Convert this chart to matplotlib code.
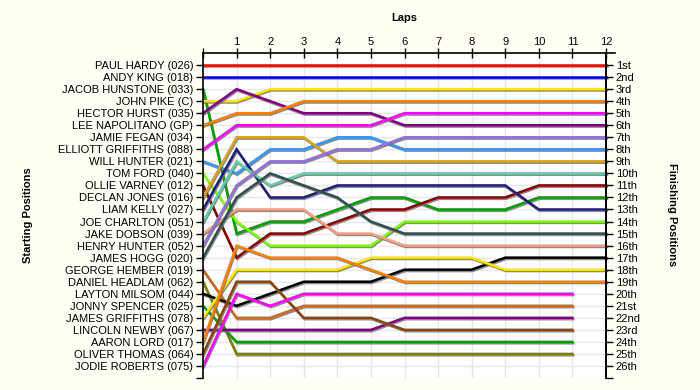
import matplotlib
matplotlib.use("Agg")
import matplotlib.pyplot as plt
import matplotlib.patheffects as pe
from matplotlib.lines import Line2D

plt.rcParams['font.family'] = ['Liberation Sans', 'DejaVu Sans']

laps = list(range(0, 13))
lap_labels = [''] + [str(i) for i in range(1, 13)]

drivers = ["PAUL HARDY (026)", "ANDY KING (018)", "JACOB HUNSTONE (033)", "JOHN PIKE (C)",
           "HECTOR HURST (035)", "LEE NAPOLITANO (GP)", "JAMIE FEGAN (034)",
           "ELLIOTT GRIFFITHS (088)", "WILL HUNTER (021)", "TOM FORD (040)",
           "OLLIE VARNEY (012)", "DECLAN JONES (016)", "LIAM KELLY (027)",
           "JOE CHARLTON (051)", "JAKE DOBSON (039)", "HENRY HUNTER (052)",
           "JAMES HOGG (020)", "GEORGE HEMBER (019)", "DANIEL HEADLAM (062)",
           "LAYTON MILSOM (044)", "JONNY SPENCER (025)", "JAMES GRIFFITHS (078)",
           "LINCOLN NEWBY (067)", "AARON LORD (017)", "OLIVER THOMAS (064)",
           "JODIE ROBERTS (075)"]

finish_labels = ["1st", "2nd", "3rd", "4th", "5th", "6th", "7th", "8th", "9th", "10th",
                 "11th", "12th", "13th", "14th", "15th", "16th", "17th", "18th", "19th",
                 "20th", "21st", "22nd", "23rd", "24th", "25th", "26th"]

# positions per lap (lap 0 = start), None = no data
positions = {
    "PAUL HARDY (026)":        [1] * 13,
    "ANDY KING (018)":         [2] * 13,
    "JACOB HUNSTONE (033)":    [3, 15, 14, 14, 13, 12, 12, 13, 13, 13, 12, 12, 12],
    "JOHN PIKE (C)":           [4, 4, 3, 3, 3, 3, 3, 3, 3, 3, 3, 3, 3],
    "HECTOR HURST (035)":      [5, 3, 4, 5, 5, 5, 6, 6, 6, 6, 6, 6, 6],
    "LEE NAPOLITANO (GP)":     [6, 5, 5, 4, 4, 4, 4, 4, 4, 4, 4, 4, 4],
    "ELLIOTT GRIFFITHS (088)": [8, 6, 6, 6, 6, 6, 5, 5, 5, 5, 5, 5, 5],
    "WILL HUNTER (021)":       [9, 10, 8, 8, 7, 7, 8, 8, 8, 8, 8, 8, 8],
    "TOM FORD (040)":          [10, 14, 16, 16, 16, 16, 14, 14, 14, 14, 14, 14, 14],
    "OLLIE VARNEY (012)":      [11, 17, 15, 15, 14, 13, 13, 12, 12, 12, 11, 11, 11],
    "DECLAN JONES (016)":      [12, 7, 7, 7, 9, 9, 9, 9, 9, 9, 9, 9, 9],
    "LIAM KELLY (027)":        [13, 8, 12, 12, 11, 11, 11, 11, 11, 11, 13, 13, 13],
    "JOE CHARLTON (051)":      [14, 9, 11, 10, 10, 10, 10, 10, 10, 10, 10, 10, 10],
    "JAKE DOBSON (039)":       [15, 13, 13, 13, 15, 15, 16, 16, 16, 16, 16, 16, 16],
    "HENRY HUNTER (052)":      [16, 11, 9, 9, 8, 8, 7, 7, 7, 7, 7, 7, 7],
    "JAMES HOGG (020)":        [17, 12, 10, 11, 12, 14, 15, 15, 15, 15, 15, 15, 15],
    "GEORGE HEMBER (019)":     [18, 22, 22, 21, 21, 21, 21, 21, 21, 21, 21, 21, None],
    "DANIEL HEADLAM (062)":    [19, 25, 25, 25, 25, 25, 25, 25, 25, 25, 25, 25, None],
    "LAYTON MILSOM (044)":     [20, 21, 20, 19, 19, 19, 18, 18, 18, 17, 17, 17, 17],
    "JONNY SPENCER (025)":     [21, 24, 24, 24, 24, 24, 24, 24, 24, 24, 24, 24, None],
    "JAMES GRIFFITHS (078)":   [22, 18, 18, 18, 18, 17, 17, 17, 17, 18, 18, 18, 18],
    "LINCOLN NEWBY (067)":     [23, 23, 23, 23, 23, 23, 22, 22, 22, 22, 22, 22, None],
    "AARON LORD (017)":        [24, 16, 17, 17, 17, 18, 19, 19, 19, 19, 19, 19, 19],
    "OLIVER THOMAS (064)":     [25, 19, 19, 22, 22, 22, 23, 23, 23, 23, 23, 23, None],
    "JODIE ROBERTS (075)":     [26, 20, 21, 20, 20, 20, 20, 20, 20, 20, 20, 20, None],
}

colors = {
    "PAUL HARDY (026)": "#EE0000",
    "ANDY KING (018)": "#0000DD",
    "JACOB HUNSTONE (033)": "#00A000",
    "JOHN PIKE (C)": "#FFE600",
    "HECTOR HURST (035)": "#800080",
    "LEE NAPOLITANO (GP)": "#FF8000",
    "ELLIOTT GRIFFITHS (088)": "#FF00FF",
    "WILL HUNTER (021)": "#3399FF",
    "TOM FORD (040)": "#80FF00",
    "OLLIE VARNEY (012)": "#8B0000",
    "DECLAN JONES (016)": "#DAA520",
    "LIAM KELLY (027)": "#1F1F7A",
    "JOE CHARLTON (051)": "#66CDAA",
    "JAKE DOBSON (039)": "#F4A080",
    "HENRY HUNTER (052)": "#9370DB",
    "JAMES HOGG (020)": "#2F4F4F",
    "GEORGE HEMBER (019)": "#D2691E",
    "DANIEL HEADLAM (062)": "#808000",
    "LAYTON MILSOM (044)": "#000000",
    "JONNY SPENCER (025)": "#00A000",
    "JAMES GRIFFITHS (078)": "#FFE600",
    "LINCOLN NEWBY (067)": "#800080",
    "AARON LORD (017)": "#FF8000",
    "OLIVER THOMAS (064)": "#8B4513",
    "JODIE ROBERTS (075)": "#FF00FF",
}

bg = "#FFFFF4"
fig = plt.figure(figsize=(7, 3.9), dpi=100, facecolor=bg)
ax = fig.add_axes([203 / 700, 1 - 378 / 390, (606 - 203) / 700, (378 - 53) / 390])
ax.set_facecolor("white")

n = len(drivers)
ax.set_xlim(0, 12)
ax.set_ylim(n + 1, 0)

# grid
for x in laps[1:]:
    ax.axvline(x, color="#E6E6E6", lw=1.0, zorder=0)
for y in range(1, n + 1):
    ax.axhline(y, color="#E6E6E6", lw=1.0, zorder=0)

shadow = [pe.SimpleLineShadow(offset=(0.6, -1.0), shadow_color="#707070", alpha=0.8),
          pe.Normal()]
for d in drivers:
    if d not in positions:
        continue
    p = positions[d]
    xs = [laps[i] for i in range(len(p)) if p[i] is not None]
    ys = [p[i] for i in range(len(p)) if p[i] is not None]
    ax.plot(xs, ys, color=colors[d], lw=1.8, solid_joinstyle="miter",
            path_effects=shadow, zorder=2, clip_on=False)

# axes / ticks
ax.xaxis.tick_top()
ax.set_xticks(laps)
ax.set_xticklabels(lap_labels, fontsize=8)
ax.tick_params(axis="x", direction="inout", length=7, width=1, pad=1, top=True, bottom=False)

ax.set_yticks(list(range(1, n + 2)))
ax.set_yticklabels(drivers + [""], fontsize=8)
ax.tick_params(axis="y", direction="out", length=5, width=1, pad=2, left=True)

ax2 = ax.twinx()
ax2.set_ylim(n + 1, 0)
ax2.set_yticks(list(range(1, n + 2)))
ax2.set_yticklabels(finish_labels + [""], fontsize=8)
ax2.tick_params(axis="y", direction="out", length=5, width=1, pad=2)

for a in (ax, ax2):
    a.spines["bottom"].set_visible(False)
    for s in ("top", "left", "right"):
        a.spines[s].set_linewidth(1.2)
ax2.spines["top"].set_visible(False)
ax2.spines["left"].set_visible(False)

# top spine extension beyond right axis
ax.add_line(Line2D([1.0, 1.022], [1.0, 1.0], transform=ax.transAxes, color="black",
                   lw=1.2, clip_on=False))

fig.text(404 / 700, 1 - 18 / 390, "Laps", ha="center", va="center", fontsize=8,
         fontweight="bold")
fig.text(28 / 700, 1 - 215 / 390, "Starting Positions", ha="center", va="center",
         rotation=90, fontsize=8, fontweight="bold")
fig.text(672 / 700, 1 - 215 / 390, "Finishing Positions", ha="center", va="center",
         rotation=270, fontsize=8, fontweight="bold")

fig.savefig("out.png", dpi=100, facecolor=bg)
